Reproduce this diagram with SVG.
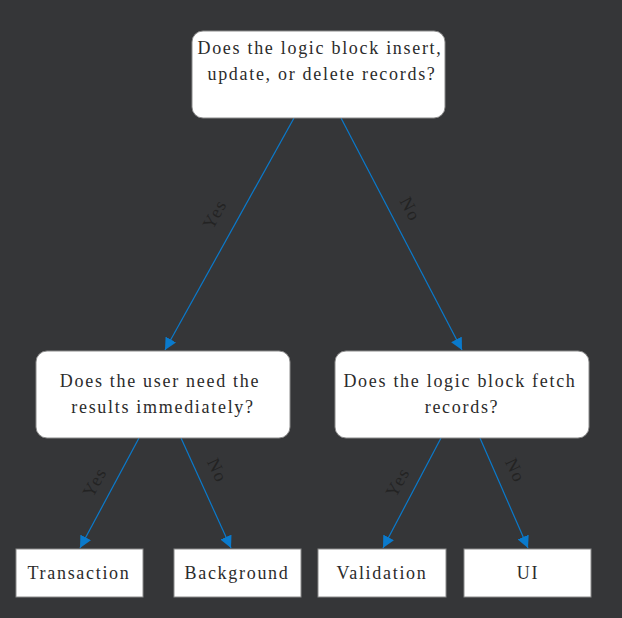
<svg xmlns="http://www.w3.org/2000/svg" width="622" height="618" viewBox="0 0 622 618">
<style>
.q{fill:#ffffff;stroke:#8a8a8a;stroke-width:1}
.t{font-family:"Liberation Serif",serif;font-size:18px;fill:#2b2b2b;text-anchor:middle;letter-spacing:1.7px}
.e{stroke:#0a7acc;stroke-width:1.2;fill:none}
.l{font-family:"Liberation Serif",serif;font-size:18px;fill:#232323;text-anchor:middle;letter-spacing:1.5px}
</style>
<defs>
<marker id="a" viewBox="0 0 12 12" refX="12" refY="6" markerWidth="12" markerHeight="12" markerUnits="userSpaceOnUse" orient="auto">
<path d="M0,0 L12,6 L0,12 z" fill="#0a7acc"/>
</marker>
</defs>
<rect width="622" height="618" fill="#353638"/>
<g id="edges">
<line class="e" x1="294" y1="118" x2="165" y2="350" marker-end="url(#a)"/>
<line class="e" x1="341" y1="118" x2="462" y2="350" marker-end="url(#a)"/>
<line class="e" x1="139" y1="438" x2="80" y2="548" marker-end="url(#a)"/>
<line class="e" x1="181" y1="438" x2="231" y2="548" marker-end="url(#a)"/>
<line class="e" x1="441" y1="438" x2="383" y2="548" marker-end="url(#a)"/>
<line class="e" x1="480" y1="438" x2="528" y2="548" marker-end="url(#a)"/>
<text class="l" transform="translate(220,217) rotate(-61)">Yes</text>
<text class="l" transform="translate(405,212) rotate(62)">No</text>
<text class="l" transform="translate(100,485) rotate(-61)">Yes</text>
<text class="l" transform="translate(212,473) rotate(65)">No</text>
<text class="l" transform="translate(403,485) rotate(-61)">Yes</text>
<text class="l" transform="translate(510,473) rotate(65)">No</text>
</g>
<g id="n1"><rect class="q" x="192" y="31" width="253" height="87" rx="11"/>
<text class="t" x="320" y="54">Does the logic block insert,</text>
<text class="t" x="322" y="80">update, or delete records?</text></g>
<g id="n2"><rect class="q" x="36" y="351" width="254" height="87" rx="11"/>
<text class="t" x="160" y="387">Does the user need the</text>
<text class="t" x="163" y="413">results immediately?</text></g>
<g id="n3"><rect class="q" x="335" y="351" width="254" height="87" rx="11"/>
<text class="t" x="460" y="387">Does the logic block fetch</text>
<text class="t" x="462" y="413">records?</text></g>
<g id="n4"><rect class="q" x="16" y="549" width="127" height="48"/>
<text class="t" x="79" y="579">Transaction</text></g>
<g id="n5"><rect class="q" x="174" y="549" width="127" height="48"/>
<text class="t" x="237" y="579">Background</text></g>
<g id="n6"><rect class="q" x="318" y="549" width="128" height="48"/>
<text class="t" x="382" y="579">Validation</text></g>
<g id="n7"><rect class="q" x="464" y="549" width="127" height="48"/>
<text class="t" x="528" y="579">UI</text></g>
</svg>
